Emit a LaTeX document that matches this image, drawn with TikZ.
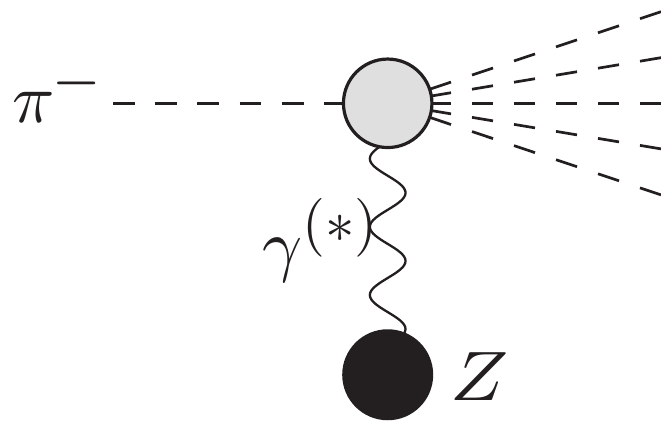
\documentclass[tikz,border=0pt]{standalone}
\usepackage{amsmath,amssymb,amsfonts}
\usepackage{graphicx}
\usepackage{xcolor}
\usepackage{tikz}
\usetikzlibrary{positioning,backgrounds,decorations.pathmorphing}
\definecolor{ink}{HTML}{231F20}

\begin{document}
\begin{tikzpicture}[
      x=1pt, y=1pt,
      node distance=181.7pt,
      every node/.style={text=ink},
      blob/.style={
        draw=ink, circle, line width=3.2pt, outer sep=0pt, inner sep=0pt,
        minimum size=88.5pt, fill=gray!25
      },
      target/.style={
        circle, outer sep=0pt, inner sep=0pt,
        minimum size=91pt, fill=ink
      },
      symbol/.style={scale=7, inner sep=0pt, anchor=base west},
      scalar/.style={draw=ink, line width=2.7pt},
      photon/.style={
        draw=ink, line width=2.3pt,
        decorate, decoration={snake, segment length=68.175pt, amplitude=17.85pt}
      }
    ]
    \useasboundingbox (0,0) rectangle (661,421);

    \node[blob] (vertex) at (387.7,317.7) {};
    \node[target, below=of vertex] (nucleus) {};

    \node[symbol] (pion) at (11.5,298.3) {$\pi^{\hspace{-0.6pt}\scalebox{1.15}{$\scriptstyle-$}}$};
    \node[symbol] (gamma) at (261,153) {$\gamma^{\scalebox{0.84}{$(*)$}}$};
    \node[symbol, xscale=1.1] (charge) at (449,20.3) {$Z$};

    \coordinate (incoming) at (113,317.7);

    \begin{scope}[on background layer]
      \draw[scalar, dash pattern=on 21.8pt off 20.4pt] (incoming) -- (vertex.center);
      \draw[photon] (vertex.center) -- (nucleus.center);
      % the spacing along x is the same on each ray
      \foreach \name/\dy/\stretch in {a/91.6/1.0546, b/45.6/1.0138, c/0/1, d/-45.6/1.0138, e/-91.6/1.0546} {
        \coordinate (out\name) at (661,317.7+\dy);
        \draw[scalar, dash pattern=on {21*\stretch} off {21*\stretch}] (out\name) -- (vertex.center);
      }
    \end{scope}
  \end{tikzpicture}
\end{document}
